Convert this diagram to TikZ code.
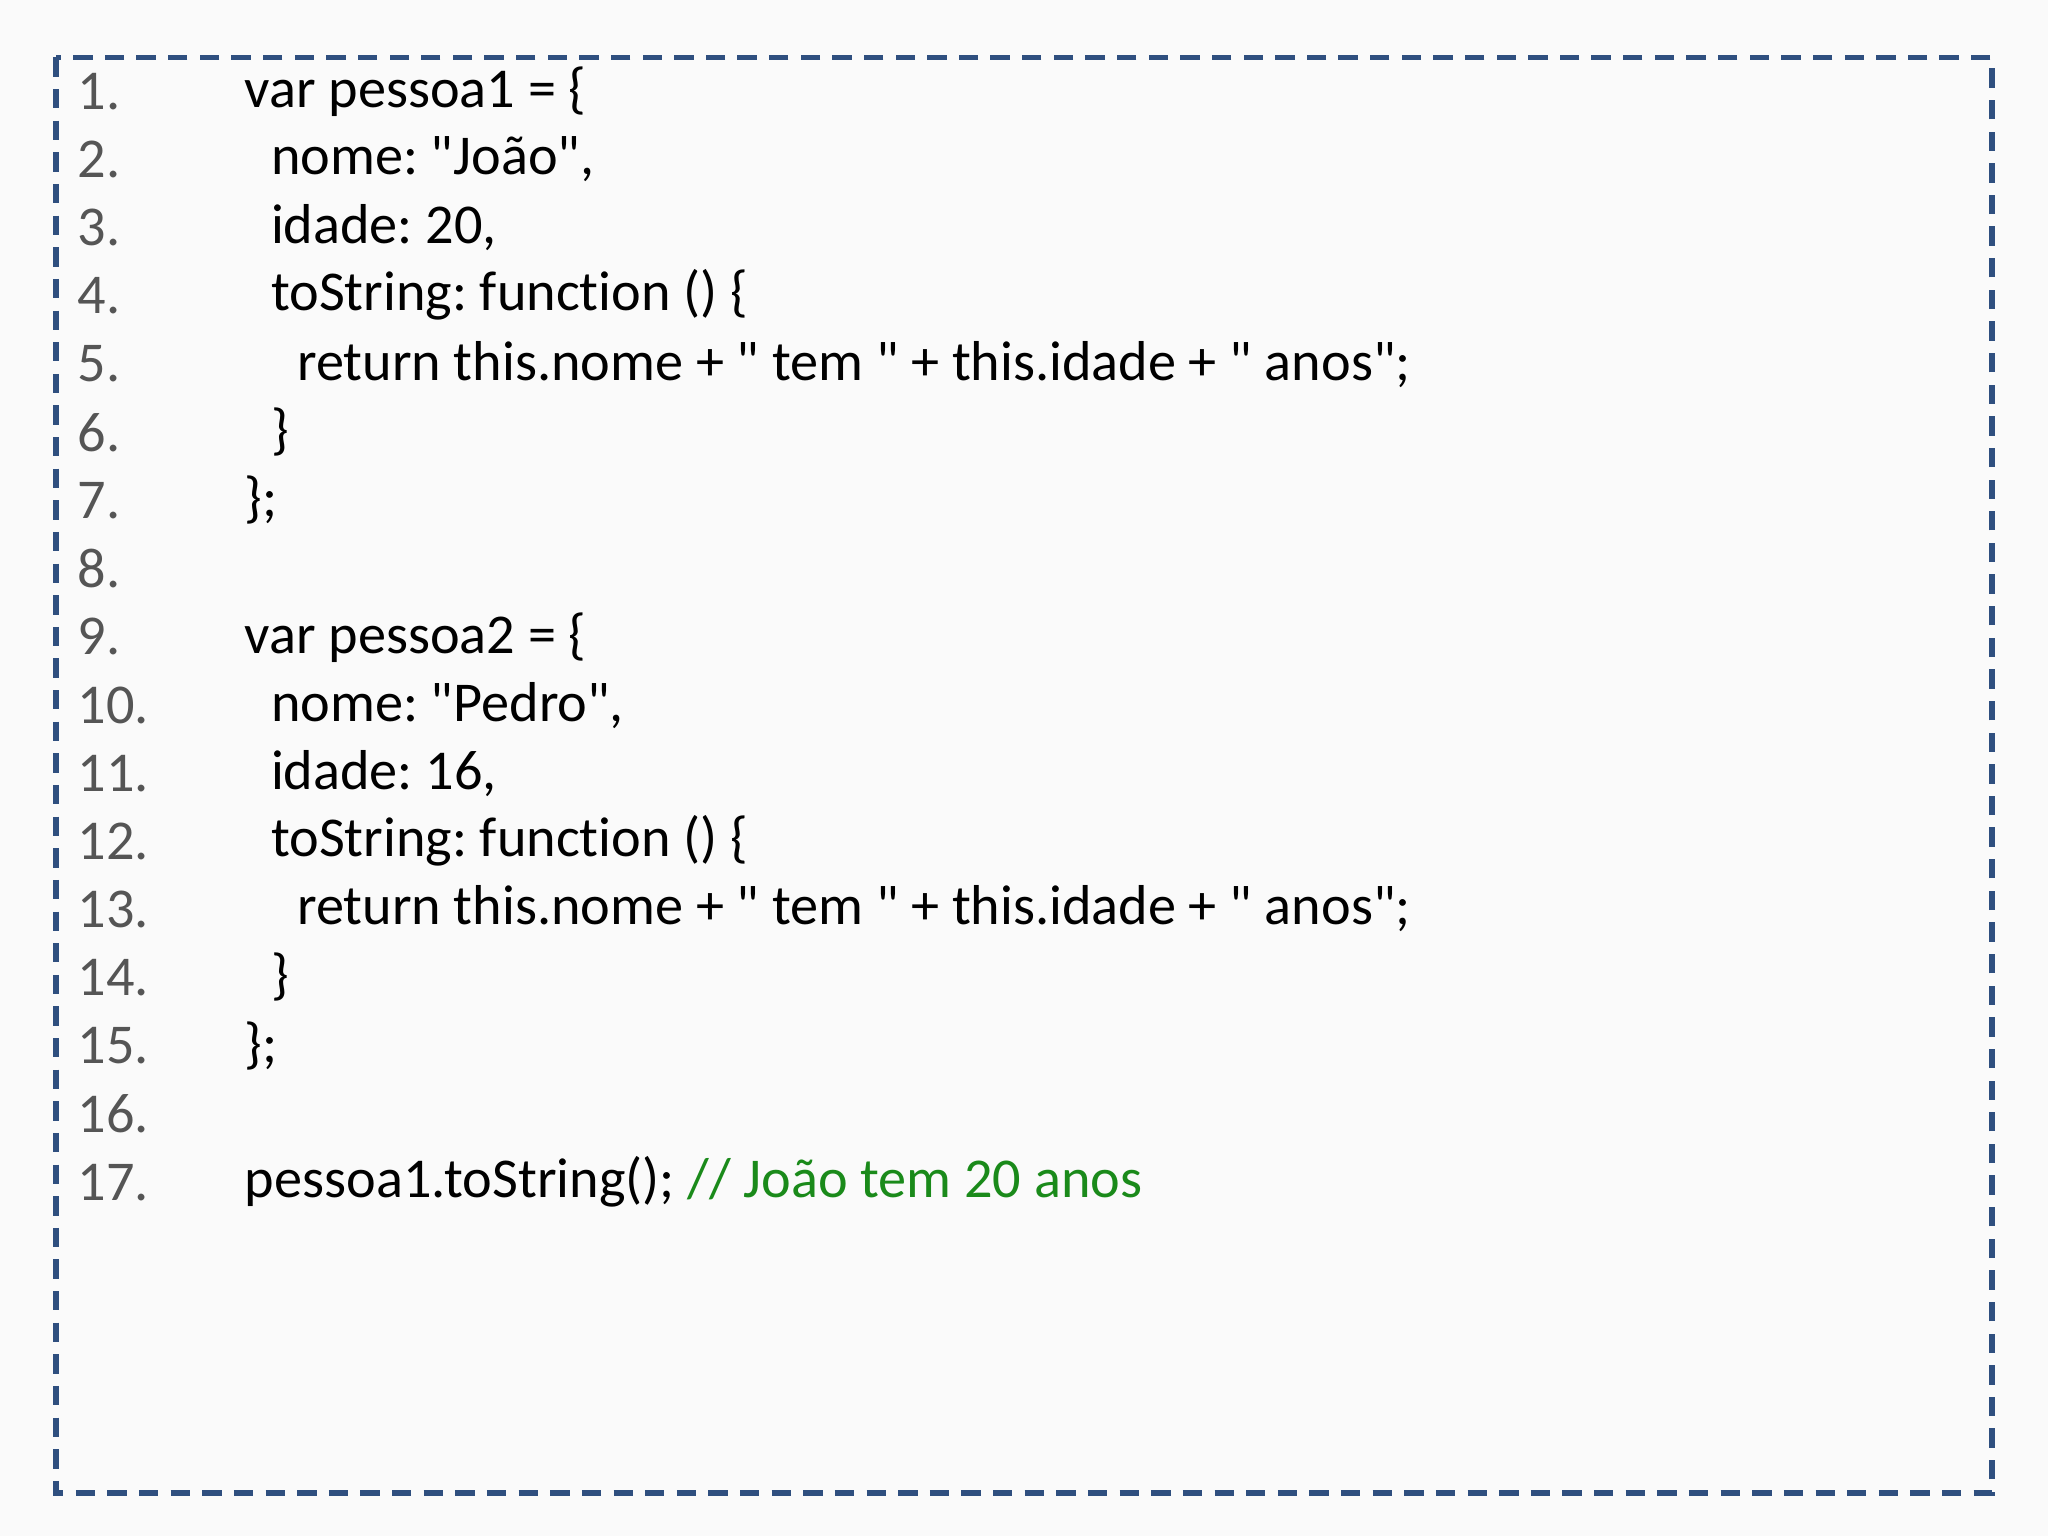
\documentclass[tikz,border=0pt]{standalone}
\usepackage{fontspec}
\newfontfamily\codefont{Carlito}[Ligatures={NoCommon}]
\frenchspacing
\newcommand\qq{\symbol{34}}
\definecolor{bx}{HTML}{2F4F7F}
\definecolor{num}{HTML}{555555}
\definecolor{cmt}{HTML}{1A8A1A}
\begin{document}
\begin{tikzpicture}[x=0.01306cm,y=-0.01306cm,
  numtxt/.style={anchor=west,inner sep=0,text=num,font=\codefont\fontsize{16pt}{19pt}\selectfont},
  code/.style={anchor=west,inner sep=0,font=\codefont\fontsize{16pt}{19pt}\selectfont}]
\useasboundingbox (0,0) rectangle (1568,1176);
\fill[white!98!black] (0,0) rectangle (1568,1176);
\draw[bx,line width=1.6pt,dash pattern=on 5.5pt off 3.5pt] (43,44) rectangle (1525,1143);
\foreach \i in {1,...,17}{\node[numtxt] (n\i) at (59,{70+52.2*(\i-1)}) {\i.};}
\node[code] (c1) at (187,70) {var pessoa1 = \{};
\node[code] (c2) at (207,122) {nome: \qq João\qq,};
\node[code] (c3) at (207,174) {idade: 20,};
\node[code] (c4) at (207,226) {toString: function () \{};
\node[code] (c5) at (227,279) {return this.nome + \qq{} tem \qq{} + this.idade + \qq{} anos\qq;};
\node[code] (c6) at (207,331) {\}};
\node[code] (c7) at (187,383) {\};};
\node[code] (c9) at (187,488) {var pessoa2 = \{};
\node[code] (c10) at (207,540) {nome: \qq Pedro\qq,};
\node[code] (c11) at (207,592) {idade: 16,};
\node[code] (c12) at (207,644) {toString: function () \{};
\node[code] (c13) at (227,696) {return this.nome + \qq{} tem \qq{} + this.idade + \qq{} anos\qq;};
\node[code] (c14) at (207,748) {\}};
\node[code] (c15) at (187,801) {\};};
\node[code] (c17) at (187,905) {pessoa1.toString(); \textcolor{cmt}{// João tem 20 anos}};
\end{tikzpicture}
\end{document}
